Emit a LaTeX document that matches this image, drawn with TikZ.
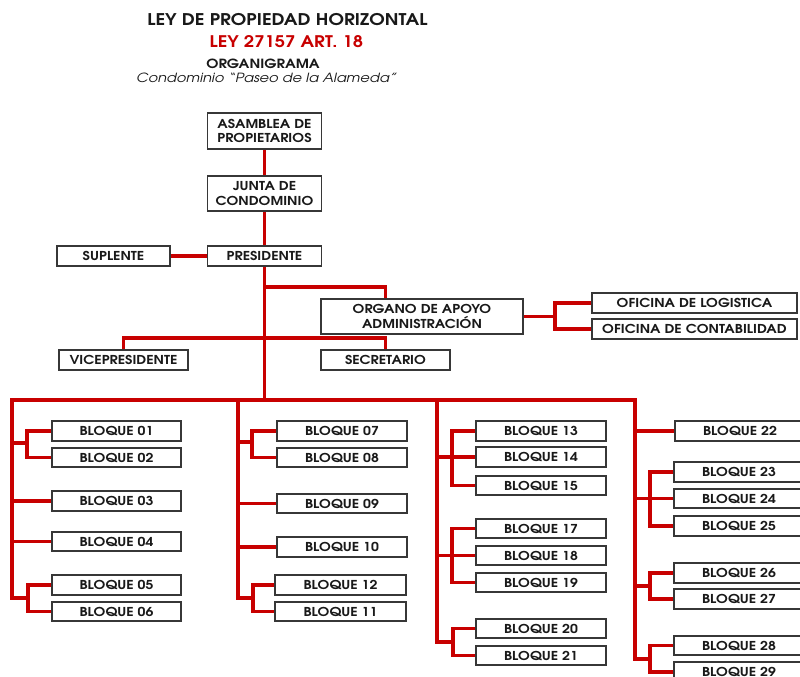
\documentclass[tikz,border=0pt]{standalone}
\usepackage{fontspec}
\setmainfont{texgyreadventor}[Extension=.otf,UprightFont=*-regular,BoldFont=*-bold,ItalicFont=*-italic,BoldItalicFont=*-bolditalic,FakeStretch=1.15]
\usetikzlibrary{calc}
\definecolor{orgred}{RGB}{200,0,0}
\definecolor{boxgray}{RGB}{55,55,55}
\definecolor{ink}{RGB}{25,25,25}

% box by its pixel corners: name, x1, y1, x2, y2, text
\newcommand\orgbox[6]{%
  \node[orgunit, minimum width={(#4-#2)*0.75pt}, minimum height={(#5-#3)*0.75pt}]
    (#1) at ({(#2+#4)/2},{(#3+#5)/2}) {#6};}

\begin{document}
\begin{tikzpicture}[x=0.75pt,y=-0.75pt,
  orgunit/.style={draw=boxgray, line width=1pt, fill=white, inner sep=0pt,
    text=ink, align=center, font=\bfseries\fontsize{9.2}{11.2}\selectfont},
  link/.style={draw=orgred, line width=2.3pt},
  heading/.style={inner sep=0pt, text=ink}]
\useasboundingbox (0,0) rectangle (800,677);
\fill[white] (0,0) rectangle (800,677);
\clip (0,0) rectangle (800,677);

% titles
\node[heading, font=\bfseries\fontsize{12.1}{15}\selectfont] (t1) at (287.5,20) {LEY DE PROPIEDAD HORIZONTAL};
\node[heading, text=orgred, font=\bfseries\fontsize{12}{14}\selectfont] (t2) at (286.5,42) {LEY 27157 ART. 18};
\node[heading, font=\bfseries\fontsize{9.5}{11}\selectfont] (t3) at (263,63.5) {ORGANIGRAMA};
\node[heading, font=\itshape\fontsize{9.5}{11}\selectfont] (t4) at (266.5,78) {Condominio ``Paseo de la Alameda''};

% upper hierarchy
\orgbox{asamblea}{207.5}{113}{321.5}{149}{ASAMBLEA DE\\PROPIETARIOS}
\orgbox{junta}{207.5}{176}{321.5}{211}{JUNTA DE\\CONDOMINIO}
\orgbox{presidente}{207.5}{246}{321.5}{266}{PRESIDENTE}
\orgbox{suplente}{57}{246}{170}{266}{SUPLENTE}
\orgbox{organo}{321}{299}{523}{334}{ORGANO DE APOYO\\ADMINISTRACIÓN}
\orgbox{vice}{59}{350}{188}{370}{VICEPRESIDENTE}
\orgbox{secretario}{321}{350}{450}{370}{SECRETARIO}
\orgbox{logistica}{592}{293}{797}{313}{OFICINA DE LOGISTICA}
\orgbox{contab}{592}{319}{797}{339}{OFICINA DE CONTABILIDAD}

% blocks, first column
\orgbox{b01}{52}{421}{181}{441}{BLOQUE 01}
\orgbox{b02}{52}{448}{181}{467}{BLOQUE 02}
\orgbox{b03}{52}{491}{181}{511}{BLOQUE 03}
\orgbox{b04}{52}{532}{181}{551}{BLOQUE 04}
\orgbox{b05}{52}{575}{181}{595}{BLOQUE 05}
\orgbox{b06}{52}{602}{181}{621}{BLOQUE 06}
% second column
\orgbox{b07}{277}{421}{407}{441}{BLOQUE 07}
\orgbox{b08}{277}{448}{407}{467}{BLOQUE 08}
\orgbox{b09}{277}{494}{407}{513}{BLOQUE 09}
\orgbox{b10}{277}{537}{407}{557}{BLOQUE 10}
\orgbox{b12}{275}{575}{406}{595}{BLOQUE 12}
\orgbox{b11}{275}{602}{406}{621}{BLOQUE 11}
% third column
\orgbox{b13}{476}{421}{606}{441}{BLOQUE 13}
\orgbox{b14}{476}{447}{606}{467}{BLOQUE 14}
\orgbox{b15}{476}{476}{606}{495}{BLOQUE 15}
\orgbox{b17}{476}{519}{606}{538}{BLOQUE 17}
\orgbox{b18}{476}{546}{606}{565}{BLOQUE 18}
\orgbox{b19}{476}{573}{606}{592}{BLOQUE 19}
\orgbox{b20}{476}{619}{606}{638}{BLOQUE 20}
\orgbox{b21}{476}{646}{606}{665}{BLOQUE 21}
% fourth column
\orgbox{b22}{675}{421}{805}{441}{BLOQUE 22}
\orgbox{b23}{674}{462}{804}{482}{BLOQUE 23}
\orgbox{b24}{674}{489}{804}{508}{BLOQUE 24}
\orgbox{b25}{674}{516}{804}{536}{BLOQUE 25}
\orgbox{b26}{674}{563}{804}{583}{BLOQUE 26}
\orgbox{b27}{674}{589}{804}{609}{BLOQUE 27}
\orgbox{b28}{674}{636}{804}{655}{BLOQUE 28}
\orgbox{b29}{674}{662}{804}{682}{BLOQUE 29}

% junction points
\coordinate (kOrg) at (264.5,287);
\coordinate (kVS) at (264.5,338);
\coordinate (oIn) at ($(organo.north west)+(65,0)$);
\coordinate (kOf) at (555,316.5);
\coordinate (c1) at (12,400);
\coordinate (c2) at (238,400);
\coordinate (c3) at (437,400);
\coordinate (c4) at (635,400);
\coordinate (j0102) at (27,443);
\coordinate (j0506) at (28,598);
\coordinate (j0708) at (252,442);
\coordinate (j1211) at (253,598);
\coordinate (j1315) at (452,457);
\coordinate (j1719) at (452,555.5);
\coordinate (j2021) at (453,642);
\coordinate (j2325) at (650,498.5);
\coordinate (j2627) at (650,586);
\coordinate (j2829) at (650,659);

% upper connectors
\draw[link] (asamblea) -- (junta);
\draw[link] (junta) -- (presidente);
\draw[link] (suplente) -- (presidente);
\draw[link] (presidente.south) -- (presidente.south |- c1);
\draw[link] (kOrg) -| (oIn);
\draw[link] (vice.north) |- (kVS) -| (secretario.north);
\draw[link] (organo.east) -- (kOf);
\draw[link] (logistica.west) -| (kOf) |- (contab.west);

% main bus and column trunks
\draw[link] (j0506) -| (c1) -- (c4) |- (j2829);
\draw[link] (c2) |- (j1211);
\draw[link] (c3) |- (j2021);

% first column
\draw[link] (b01.west) -| (j0102) |- (b02.west);
\draw[link] (c1 |- j0102) -- (j0102);
\draw[link] (b03.west) -- (b03.west -| c1);
\draw[link] (b04.west) -- (b04.west -| c1);
\draw[link] (b05.west) -| (j0506) |- (b06.west);
% second column
\draw[link] (b07.west) -| (j0708) |- (b08.west);
\draw[link] (c2 |- j0708) -- (j0708);
\draw[link] (b09.west) -- (b09.west -| c2);
\draw[link] (b10.west) -- (b10.west -| c2);
\draw[link] (b12.west) -| (j1211) |- (b11.west);
% third column
\draw[link] (b13.west) -| (j1315) |- (b15.west);
\draw[link] (b14.west) -- (b14.west -| c3);
\draw[link] (b17.west) -| (j1719) |- (b19.west);
\draw[link] (b18.west) -- (b18.west -| c3);
\draw[link] (b20.west) -| (j2021) |- (b21.west);
% fourth column
\draw[link] (b22.west) -- (b22.west -| c4);
\draw[link] (b23.west) -| (j2325) |- (b25.west);
\draw[link] (b24.west) -- (b24.west -| c4);
\draw[link] (b26.west) -| (j2627) |- (b27.west);
\draw[link] (c4 |- j2627) -- (j2627);
\draw[link] (b28.west) -| (j2829) |- (b29.west);
\end{tikzpicture}
\end{document}
